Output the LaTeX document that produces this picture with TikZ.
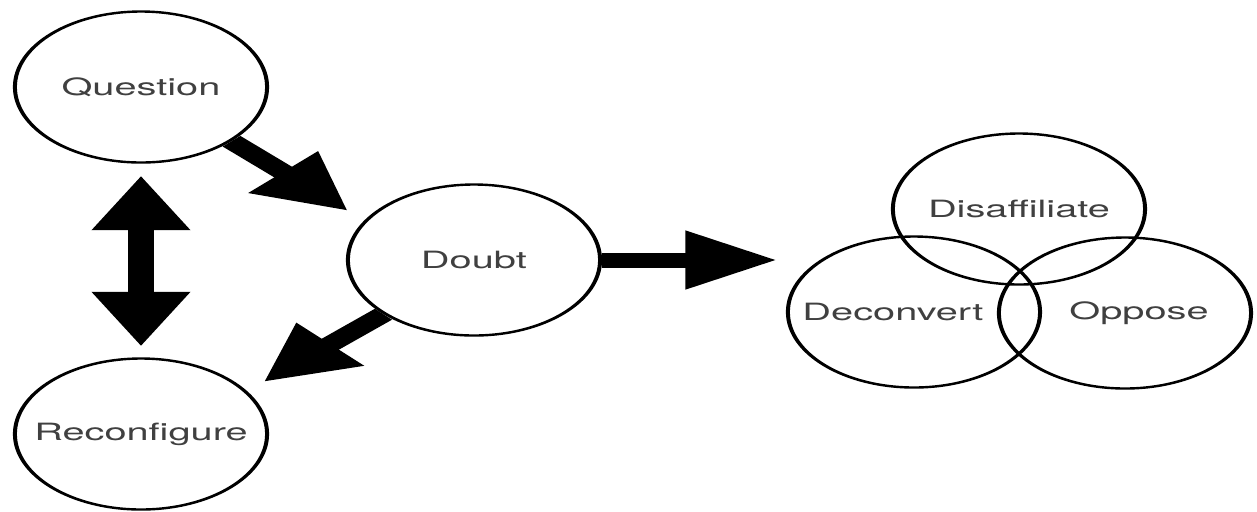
\documentclass[tikz,border=0pt]{standalone}
\usepackage{fontspec}
\setmainfont{TeX Gyre Heros}
\usetikzlibrary{arrows.meta,calc}

\begin{document}
\begin{tikzpicture}[
  x=0.5pt, y=-0.5pt,
  font=\fontsize{11.9}{13}\selectfont,
  text=black!75,
  >={Triangle[length=27.5pt, width=27.5pt]},
  bubble/.style={circle, draw, line width=1.2pt, minimum size=75.5pt, inner sep=0pt},
  bigarrow/.style={->, line width=7.5pt}
]
\useasboundingbox (0,0) rectangle (1257,511);

% the drawing is stretched sideways, text and arrows with it
\begin{scope}[x=0.2994pt, transform canvas={xscale=1.67}]

\node[bubble] (q) at (141,87) {Question};
\node[bubble] (d) at (474,260) {Doubt};
\node[bubble] (r) at (141,434) {Reconfigure};

% the three outcomes
\node[bubble, label={center:Disaffiliate}] (dis) at (1019,209) {};
\node[bubble, label={[xshift=-6.3pt]center:Deconvert}] (dec) at (914,312) {};
\node[bubble, label={[xshift=4.2pt]center:Oppose}] (opp) at (1125,313) {};

\draw[bigarrow, shorten >=6.8pt] (q.-45) -- (d.149);
\draw[bigarrow, shorten >=6.7pt] (d.-135) -- (r.34);
\draw[bigarrow, <->, shorten <=5.75pt, shorten >=5.25pt] (q) -- (r);
\draw[bigarrow, shorten >=2.6pt] (d.east) -- (d.east -| dec.west);

\end{scope}
\end{tikzpicture}
\end{document}
